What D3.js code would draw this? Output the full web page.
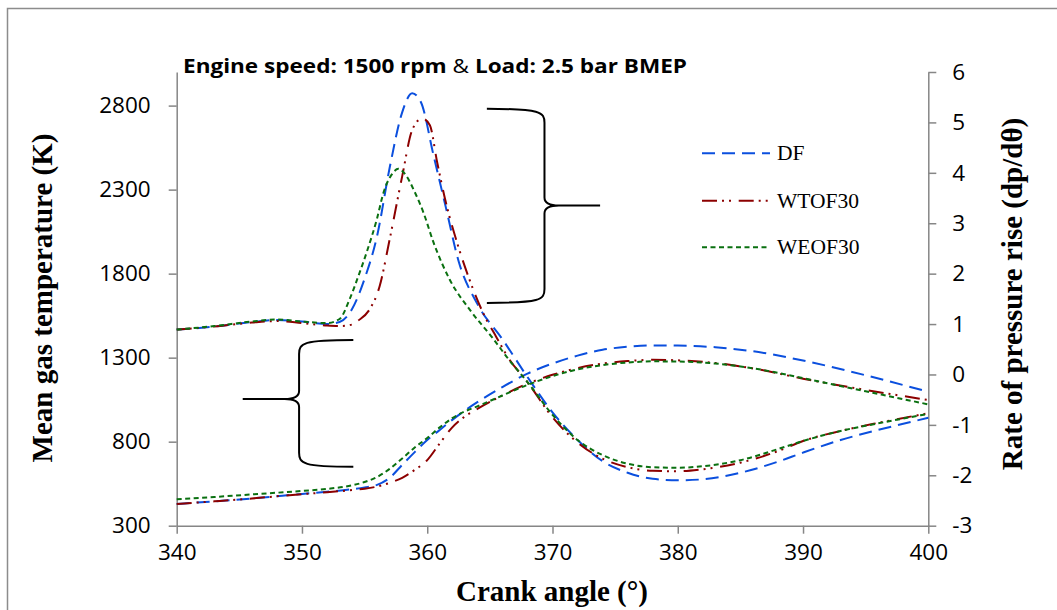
<!DOCTYPE html>
<html><head><meta charset="utf-8">
<script src="https://cdn.jsdelivr.net/npm/d3@7"></script>
<style>html,body{margin:0;padding:0;background:#fff;}svg{display:block;}</style>
</head><body>
<svg id="chart" width="1057" height="610"></svg>
<script>
// ---------- data ----------
const seriesNames = ["DF", "WTOF30", "WEOF30"];
const xTicks = [340, 350, 360, 370, 380, 390, 400];
const leftTicks = [300, 800, 1300, 1800, 2300, 2800];
const rightTicks = [-3, -2, -1, 0, 1, 2, 3, 4, 5, 6];

// Mean gas temperature (K), left axis
const tempAngles = [340,343,346,350,352,354,355,356,357,358,359,360,361,362,363,364,366,368,370,372,374,376,378,380,383,386,390,395,400];
const tempDF     = [429,445,462,489,502,517,528,543,585,662,738,810,870,930,985,1035,1125,1205,1265,1312,1347,1365,1373,1372,1362,1338,1283,1195,1097];
const tempWTOF30 = [429,445,462,488,499,512,520,533,555,585,632,690,790,885,950,995,1075,1145,1198,1238,1265,1280,1287,1284,1268,1236,1175,1108,1048];
const tempWEOF30 = [457,471,486,507,519,540,560,590,638,700,765,822,885,940,980,1010,1075,1138,1190,1230,1256,1271,1278,1277,1265,1237,1178,1100,1022];

// Rate of pressure rise (dp/dθ), right axis
const dpAnglesDF = [340,343,346,348,350,352,353,354,355,356,357,358,358.8,359.5,360.5,361.5,362.5,364,366,368,370,372,374,376,378,380,382,385,388,390,393,396,400];
const dpDF       = [0.89,0.95,1.04,1.08,1.05,1.0,1.04,1.3,1.9,2.75,4.1,5.2,5.58,5.4,4.35,3.3,2.25,1.4,0.7,-0.05,-0.75,-1.3,-1.72,-1.95,-2.07,-2.1,-2.08,-1.95,-1.73,-1.55,-1.3,-1.1,-0.86];
const dpAnglesWTOF30 = [340,343,346,348,350,352,353,354,354.5,355.4,356.2,357,358,358.8,359.6,360.2,360.8,361.5,362.4,363.2,364.5,365.5,366.5,368,370,372,374,376,378,380,382,385,388,390,393,396,400];
const dpWTOF30       = [0.89,0.95,1.03,1.06,1.02,0.97,0.96,0.99,1.07,1.29,1.75,2.68,3.93,4.85,5.08,4.95,4.2,3.4,2.6,2.0,1.2,0.75,0.32,-0.15,-0.85,-1.35,-1.67,-1.84,-1.91,-1.92,-1.88,-1.75,-1.52,-1.32,-1.12,-0.96,-0.77];
const dpAnglesWEOF30 = [340,343,346,348,350,352,353,353.8,354.5,355.2,356,356.5,357.2,357.7,358.3,359,359.7,360.5,361.8,363.5,365.2,366.5,368,370,372,374,376,378,380,382,385,388,390,393,396,400];
const dpWEOF30       = [0.89,0.96,1.05,1.09,1.05,1.02,1.1,1.49,1.95,2.45,3.1,3.6,3.98,4.08,3.95,3.62,3.21,2.62,1.88,1.25,0.73,0.3,-0.15,-0.8,-1.3,-1.6,-1.77,-1.84,-1.85,-1.82,-1.7,-1.48,-1.32,-1.12,-0.97,-0.78];

// ---------- styles ----------
const colors = {DF: "#0b4fde", WTOF30: "#8c0000", WEOF30: "#0a7010"};
const dashes = {DF: "13,7", WTOF30: "15,5,2,5,2,7.7", WEOF30: "5,3.5"};

const svg = d3.select("#chart");
const x = d3.scaleLinear().domain([340, 400]).range([176.7, 928.3]);
const yL = d3.scaleLinear().domain([300, 3000]).range([525.7, 72]);
const yR = d3.scaleLinear().domain([-3, 6]).range([525.7, 72]);

// outer border
svg.append("rect").attr("x", 7.5).attr("y", 8.5).attr("width", 1060).attr("height", 610)
  .attr("fill", "none").attr("stroke", "#8c8c8c").attr("stroke-width", 1.5);

const axisColor = "#868686";
const tickFont = "'Open Sans', 'Liberation Sans', sans-serif";
const fmt = d => String(d);

function styleAxis(g) {
  g.select(".domain").attr("stroke", axisColor).attr("stroke-width", 1.5);
  g.selectAll(".tick line").attr("stroke", axisColor).attr("stroke-width", 1.5);
  g.selectAll(".tick text").attr("fill", "#000").style("font-family", tickFont).style("font-size", "22.5px");
}

// x axis
const gx = svg.append("g").attr("transform", `translate(0,${yL(300)})`)
  .call(d3.axisBottom(x).tickValues(xTicks).tickSize(8).tickSizeOuter(0).tickPadding(10).tickFormat(fmt));
styleAxis(gx);

// left axis
const gl = svg.append("g").attr("transform", `translate(${x(340)},0)`)
  .call(d3.axisLeft(yL).tickValues(leftTicks).tickSize(8).tickSizeOuter(0).tickPadding(18).tickFormat(fmt));
styleAxis(gl);

// right axis
const gr = svg.append("g").attr("transform", `translate(${x(400)},0)`)
  .call(d3.axisRight(yR).tickValues(rightTicks).tickSize(8).tickSizeOuter(0).tickPadding(16).tickFormat(fmt));
styleAxis(gr);

// lines
const lineGen = (ys) => d3.line().x(d => x(d[0])).y(d => ys(d[1])).curve(d3.curveMonotoneX);
const tempSets = {DF: tempDF, WTOF30: tempWTOF30, WEOF30: tempWEOF30};
const dpSets = {DF: [dpAnglesDF, dpDF], WTOF30: [dpAnglesWTOF30, dpWTOF30], WEOF30: [dpAnglesWEOF30, dpWEOF30]};
const plot = svg.append("g");
seriesNames.forEach(name => {
  const tData = tempAngles.map((a, i) => [a, tempSets[name][i]]);
  plot.append("path").attr("d", lineGen(yL)(tData)).attr("fill", "none")
    .attr("stroke", colors[name]).attr("stroke-width", 2).attr("stroke-dasharray", dashes[name]);
  const [ang, vals] = dpSets[name];
  const pData = ang.map((a, i) => [a, vals[i]]);
  plot.append("path").attr("d", lineGen(yR)(pData)).attr("fill", "none")
    .attr("stroke", colors[name]).attr("stroke-width", 2).attr("stroke-dasharray", dashes[name]);
});

// braces (annotations, positioned in data units)
function brace(xEnd, xV, xTip, yTop, yBot, yTip) {
  const d = Math.sign(xTip - xV), r = 8, r2 = 14;
  return `M${xEnd},${yTop} C${xV - d * 4},${yTop} ${xV},${yTop + 3} ${xV},${yTop + r2} L${xV},${yTip - r} Q${xV},${yTip} ${xV + d * r * 1.8},${yTip} L${xTip},${yTip}`
    + ` M${xV + d * r * 1.8},${yTip} Q${xV},${yTip} ${xV},${yTip + r} L${xV},${yBot - r2} C${xV},${yBot - 3} ${xV - d * 4},${yBot} ${xEnd},${yBot}`;
}
svg.append("path").attr("d", brace(x(364.76), x(369.36), x(373.8), yR(5.27), yR(1.42), yR(3.35)))
  .attr("fill", "none").attr("stroke", "#000").attr("stroke-width", 2);
svg.append("path").attr("d", brace(x(354.1), x(349.77), x(345.27), yL(1405), yL(651), yL(1054)))
  .attr("fill", "none").attr("stroke", "#000").attr("stroke-width", 2);

// legend
const legY = [153.3, 200.7, 247.3];
seriesNames.forEach((name, i) => {
  svg.append("line").attr("x1", 702).attr("x2", 770).attr("y1", legY[i]).attr("y2", legY[i])
    .attr("stroke", colors[name]).attr("stroke-width", 2).attr("stroke-dasharray", dashes[name]);
  svg.append("text").attr("x", 777).attr("y", legY[i] + 7).text(name)
    .style("font-family", "'Liberation Serif', 'Times New Roman', serif").style("font-size", "21.5px").attr("fill", "#000");
});

// title
const title = svg.append("text").attr("x", 183).attr("y", 73)
  .attr("textLength", 504).attr("lengthAdjust", "spacingAndGlyphs")
  .style("font-family", tickFont).style("font-size", "20px").attr("fill", "#000");
title.append("tspan").style("font-weight", "bold").text("Engine speed: 1500 rpm ");
title.append("tspan").style("font-weight", "normal").text("&");
title.append("tspan").style("font-weight", "bold").text(" Load: 2.5 bar BMEP");

// axis titles
const serif = "'Liberation Serif', 'Times New Roman', serif";
svg.append("text").attr("x", 552).attr("y", 601).attr("text-anchor", "middle")
  .style("font-family", serif).style("font-weight", "bold").style("font-size", "29px").text("Crank angle (°)");
svg.append("text").attr("transform", "translate(52,298) rotate(-90)").attr("text-anchor", "middle")
  .style("font-family", serif).style("font-weight", "bold").style("font-size", "29px").text("Mean gas temperature (K)");
svg.append("text").attr("transform", "translate(1022,294) rotate(-90)").attr("text-anchor", "middle")
  .style("font-family", serif).style("font-weight", "bold").style("font-size", "29px").text("Rate of pressure rise (dp/dθ)");
</script>
</body></html>
